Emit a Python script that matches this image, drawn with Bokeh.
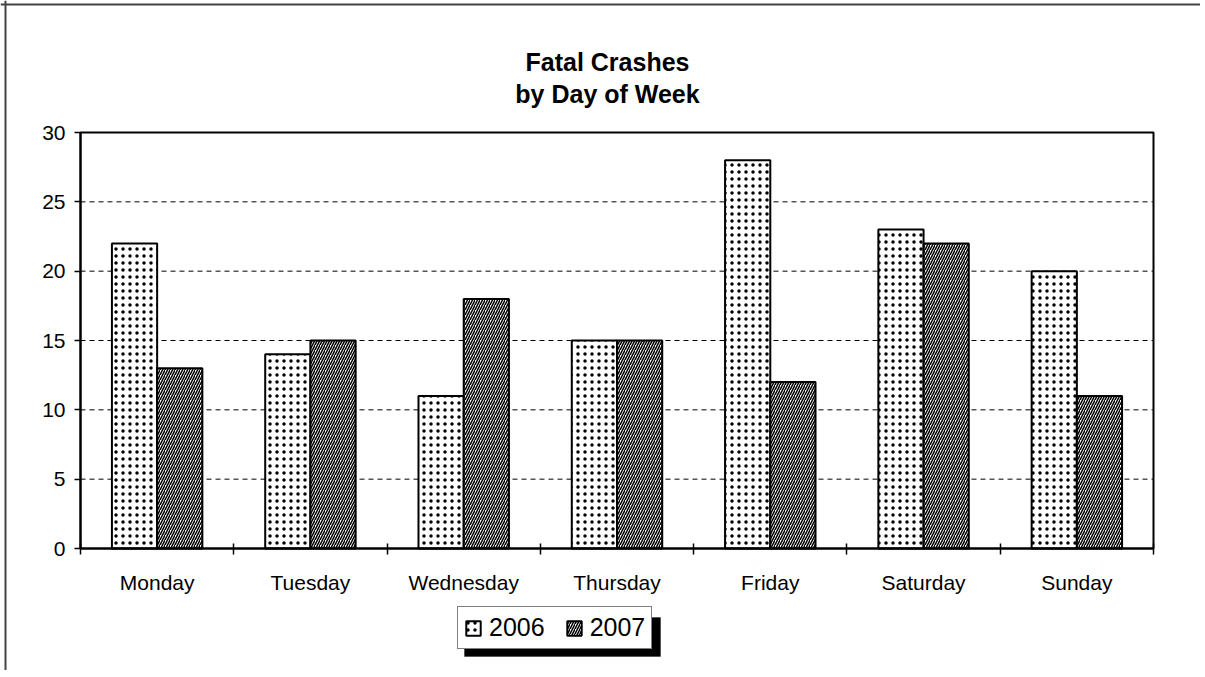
from bokeh.plotting import figure
from bokeh.models import (Range1d, LinearAxis, FixedTicker, Legend, LegendItem,
                          Label, BoxAnnotation, Whisker, Span, ColumnDataSource)
from bokeh.core.properties import value
from bokeh.transform import dodge
from bokeh.embed import file_html
from bokeh.resources import INLINE

days = ["Monday", "Tuesday", "Wednesday", "Thursday", "Friday", "Saturday", "Sunday"]
y2006 = [22, 14, 11, 15, 28, 23, 20]
y2007 = [13, 15, 18, 15, 12, 22, 11]
series_names = ["2006", "2007"]
title_lines = ["Fatal Crashes", "by Day of Week"]
y_ticks = [0, 5, 10, 15, 20, 25, 30]

FONT = "Liberation Sans"
W, H = 1200, 670
# plot-area placement on the canvas (pixels)
PX_L, PX_R, PX_T, PX_B = 80, 1153, 132, 548

n = len(days)
ymax = y_ticks[-1]
ux = (PX_R - PX_L) / n
uy = (PX_B - PX_T) / ymax
x0 = -PX_L / ux
y1 = ymax + PX_T / uy


def sx(px):
    return x0 + px / ux


def sy(py):
    return y1 - py / uy


centers = [i + 0.5 for i in range(n)]
bounds = list(range(n + 1))

p = figure(x_range=Range1d(x0, n + (W - PX_R) / ux),
           y_range=Range1d(-(H - PX_B) / uy, y1),
           width=W, height=H, output_backend="svg", toolbar_location=None,
           x_axis_location=None, y_axis_location=None, min_border=0)
p.background_fill_color = "white"
p.border_fill_color = "white"
p.outline_line_color = None
p.xgrid.visible = False
p.ygrid.visible = False

# dashed gridlines inside plot area
grid_src = ColumnDataSource(dict(y=y_ticks[1:-1]))
p.add_layout(Whisker(base="y", lower=value(0), upper=value(n), dimension="width",
                     source=grid_src, lower_head=None, upper_head=None,
                     line_color="black", line_width=1, line_dash="5 4"))

data = dict(day=days, pos=centers, y2006=y2006, y2007=y2007)
bw = 0.295
r1 = p.vbar(x=dodge("pos", -bw / 2), top="y2006", width=bw,
            source=data, fill_color="white", line_color="black", line_width=2,
            hatch_pattern=".", hatch_scale=7, hatch_weight=1.4, hatch_color="black")
r2 = p.vbar(x=dodge("pos", bw / 2), top="y2007", width=bw,
            source=data, fill_color="white", line_color="black", line_width=2,
            hatch_pattern="/", hatch_scale=5, hatch_weight=1.5, hatch_color="black")

# plot-area border
p.add_layout(BoxAnnotation(left=0, right=n, bottom=0, top=ymax, fill_color=None,
                           line_color="black", line_width=2, line_alpha=1))

# y axis
yax = LinearAxis(fixed_location=0, bounds=(0, ymax), ticker=FixedTicker(ticks=y_ticks))
yax.axis_line_width = 2
yax.axis_line_color = "black"
yax.major_tick_out = 6
yax.major_tick_in = 0
yax.major_tick_line_width = 1.5
yax.minor_tick_line_color = None
yax.major_label_text_font = FONT
yax.major_label_text_font_size = "21px"
yax.major_label_text_color = "black"
yax.major_label_standoff = 9
p.add_layout(yax, "left")

# x axis: category names centred, ticks between categories
xax = LinearAxis(fixed_location=0, bounds=(0, n),
                 ticker=FixedTicker(ticks=centers, minor_ticks=bounds),
                 major_label_overrides={c: d for c, d in zip(centers, days)})
xax.axis_line_width = 2
xax.axis_line_color = "black"
xax.major_tick_out = 0
xax.major_tick_in = 0
xax.minor_tick_out = 6
xax.minor_tick_in = 5
xax.minor_tick_line_width = 1.5
xax.minor_tick_line_color = "black"
xax.major_label_text_font = FONT
xax.major_label_text_font_size = "21px"
xax.major_label_text_color = "black"
xax.major_label_standoff = 16
p.add_layout(xax, "below")

# outer chart border (left and top)
p.add_layout(Span(location=sx(5), dimension="height", line_color="#444", line_width=2))
p.add_layout(Span(location=sy(4), dimension="width", line_color="#444", line_width=2))

# title
for txt, by in zip(title_lines, [61, 93]):
    p.add_layout(Label(x=sx(607), y=sy(by), text=txt,
                       text_align="center", text_baseline="alphabetic",
                       text_font=FONT, text_font_style="bold",
                       text_font_size="25px", text_color="black"))

# legend shadow
p.add_layout(BoxAnnotation(left=sx(464), right=sx(660), top=sy(617), bottom=sy(656),
                           fill_color="black", fill_alpha=1, line_color="black"))

legend = Legend(items=[LegendItem(label=series_names[0], renderers=[r1]),
                       LegendItem(label=series_names[1], renderers=[r2])],
                orientation="horizontal", location=(457, 21))
legend.padding = 6
legend.spacing = 20
legend.margin = 0
legend.glyph_width = 18
legend.glyph_height = 18
legend.label_standoff = 7
legend.label_text_font = FONT
legend.label_text_font_size = "25px"
legend.label_text_color = "black"
legend.border_line_color = "black"
legend.border_line_width = 1.5
legend.background_fill_color = "white"
legend.background_fill_alpha = 1
p.add_layout(legend, "center")

open("out.html", "w").write(file_html(p, INLINE))
